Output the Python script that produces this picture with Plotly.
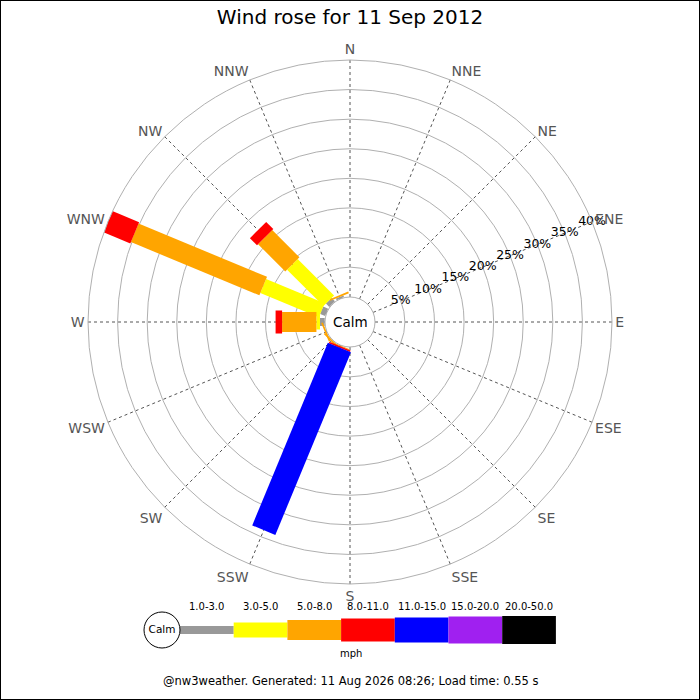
import plotly.graph_objects as go

# wind rose for 11 Sep 2012, percent of time per direction and speed bin
directions = ["N", "NNE", "NE", "ENE", "E", "ESE", "SE", "SSE",
              "S", "SSW", "SW", "WSW", "W", "WNW", "NW", "NNW"]
bins = ["1.0-3.0", "3.0-5.0", "5.0-8.0", "8.0-11.0", "11.0-15.0", "15.0-20.0", "20.0-50.0"]
colors = ["#999999", "#ffff00", "#ffa500", "#ff0000", "#0000ff", "#a020f0", "#000000"]
widths = [8, 15, 20, 23, 25, 27, 28]

#              N  NNE NE ENE E ESE SE SSE S  SSW   SW   WSW  W    WNW   NW   NNW
pct_1_3   = [0, 0, 0, 0, 0, 0, 0, 0, 0, 0,    0,   0,   0.8, 0.9,  0.8, 0.3]
pct_3_5   = [0, 0, 0, 0, 0, 0, 0, 0, 0, 0,    0,   0,   0.6, 10.7, 8.7, 0]
pct_5_8   = [0, 0, 0, 0, 0, 0, 0, 0, 0, 0.15, 0.3, 0.3, 5.8, 23.5, 6.5, 0.3]
pct_8_11  = [0, 0, 0, 0, 0, 0, 0, 0, 0, 0.25, 0,   0,   1.1, 4.9,  1.7, 0]
pct_11_15 = [0, 0, 0, 0, 0, 0, 0, 0, 0, 33.4, 0,   0,   0,   0,    0,   0]
pct_15_20 = [0] * 16
pct_20_50 = [0] * 16
series = [pct_1_3, pct_3_5, pct_5_8, pct_8_11, pct_11_15, pct_15_20, pct_20_50]

radial_ticks = [0, 5, 10, 15, 20, 25, 30, 35, 40]
radial_labels = ["5%", "10%", "15%", "20%", "25%", "30%", "35%", "40%"]
label_dir = "ENE"

title = "Wind rose for 11 Sep 2012"
footer = "@nw3weather. Generated: 11 Aug 2026 08:26; Load time: 0.55 s"

FONT = "DejaVu Sans"
W = H = 700

fig = go.Figure()

# stacked segments drawn as thick radial lines (constant width like the original)
cum = [0.0] * len(directions)
for b, vals in enumerate(series):
    for i, v in enumerate(vals):
        if v <= 0:
            continue
        fig.add_trace(go.Scatterpolar(
            r=[cum[i], cum[i] + v], theta=[directions[i], directions[i]],
            mode="lines", line=dict(color=colors[b], width=widths[b]),
            showlegend=False, hoverinfo="skip"))
        cum[i] += v

# percentage labels sit right on the ENE spoke
fig.add_trace(go.Scatterpolar(
    r=radial_ticks[1:], theta=[label_dir] * len(radial_labels), mode="text",
    text=radial_labels, textposition="middle center",
    textfont=dict(size=12.5, color="black", family=FONT),
    showlegend=False, hoverinfo="skip"))

# legend strip as a small cartesian subplot, one unit per speed bin
for b, name in enumerate(bins):
    fig.add_trace(go.Scatter(
        x=[b, b + 1], y=[0, 0], mode="lines",
        line=dict(color=colors[b], width=widths[b]),
        xaxis="x", yaxis="y", showlegend=False, hoverinfo="skip"))
    fig.add_annotation(x=b + 0.5, y=0.66, xref="x", yref="y", text=name,
                       showarrow=False, font=dict(size=10, color="black", family=FONT))
fig.add_trace(go.Scatter(
    x=[-0.335], y=[0], mode="markers+text", text=["Calm"], textposition="middle center",
    marker=dict(symbol="circle", size=36, color="white", line=dict(color="black", width=1)),
    textfont=dict(size=10.5, color="black", family=FONT),
    xaxis="x", yaxis="y", showlegend=False, hoverinfo="skip"))
fig.add_annotation(x=3.18, y=-0.66, xref="x", yref="y", text="mph",
                   showarrow=False, font=dict(size=10, color="black", family=FONT))

fig.add_annotation(x=0.5, y=1 - 322 / H, xref="paper", yref="paper", text="Calm",
                   showarrow=False, font=dict(size=13.5, color="black", family=FONT))
fig.add_annotation(x=0.5, y=1 - 690 / H, xref="paper", yref="paper", text=footer,
                   showarrow=False, font=dict(size=11.5, color="black", family=FONT))

fig.add_shape(type="rect", xref="paper", yref="paper", x0=0, y0=0, x1=1, y1=1,
              line=dict(color="black", width=2), layer="above")

unit = 53.7
fig.update_layout(
    width=W, height=H,
    margin=dict(l=0, r=0, t=0, b=0),
    paper_bgcolor="white", plot_bgcolor="white",
    font=dict(family=FONT),
    title=dict(text=title, x=0.5, xanchor="center", y=1 - 17 / H, yanchor="middle",
               font=dict(size=20, color="black", family=FONT)),
    polar=dict(
        domain=dict(x=[88 / W, 612 / W], y=[1 - 584 / H, 1 - 60 / H]),
        hole=25 / 262,
        bgcolor="white",
        radialaxis=dict(range=[-0.05, 40], tickvals=radial_ticks, showticklabels=False,
                        angle=22.5, showline=False, ticks="",
                        gridcolor="#b0b0b0", gridwidth=1),
        angularaxis=dict(type="category", categoryarray=directions,
                         direction="clockwise", rotation=90,
                         showline=True, linecolor="#b0b0b0", linewidth=1,
                         gridcolor="#555555", griddash="dot", gridwidth=1, ticks="",
                         tickfont=dict(size=14, color="#555555", family=FONT)),
    ),
    xaxis=dict(domain=[0, 1], range=[-180 / unit, (W - 180) / unit], visible=False,
               fixedrange=True),
    yaxis=dict(domain=[1 - 665 / H, 1 - 595 / H], range=[-1, 1], visible=False,
               fixedrange=True),
)

# page body margin would shift the 700px figure inside the 700px window
fig.write_html("out.html", config={"displayModeBar": False},
               post_script="document.body.style.margin='0';")
